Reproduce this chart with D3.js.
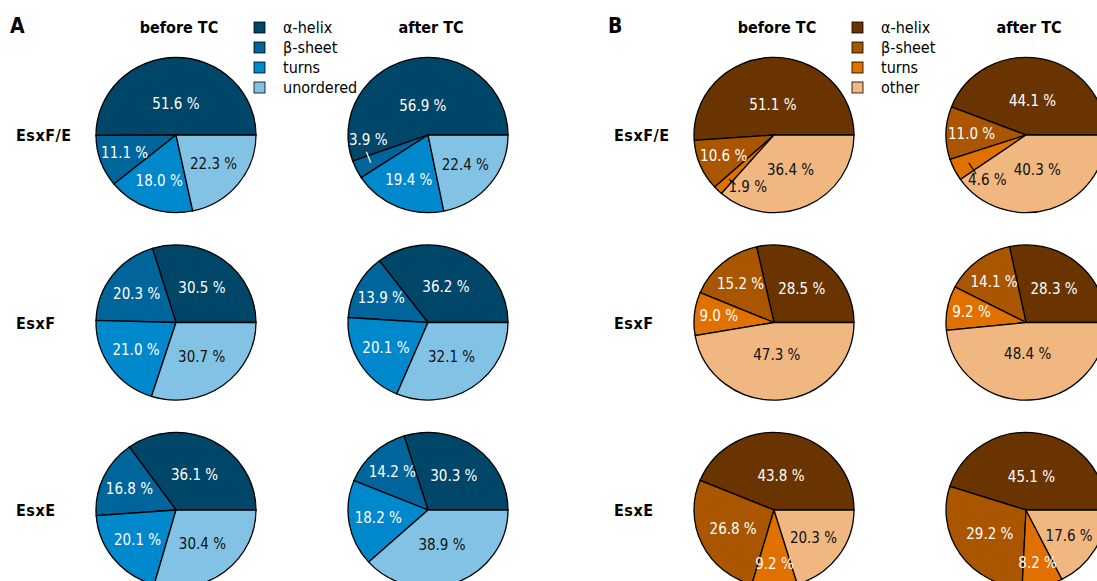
<!DOCTYPE html>
<html>
<head>
<meta charset="utf-8">
<script src="https://cdn.jsdelivr.net/npm/d3@7"></script>
<style>
  body { margin: 0; background: #fff; }
  text { font-family: "DejaVu Sans Condensed", "DejaVu Sans", sans-serif; }
</style>
</head>
<body>
<svg id="graph" width="1097" height="581"></svg>
<script>
// categories
const rows = ["EsxF/E", "EsxF", "EsxE"];
const conditions = ["before TC", "after TC"];
const seriesA = ["α-helix", "β-sheet", "turns", "unordered"];
const seriesB = ["α-helix", "β-sheet", "turns", "other"];

// panel A : values per row, in series order
const aBefore = [[51.6, 11.1, 18.0, 22.3], [30.5, 20.3, 21.0, 30.7], [36.1, 16.8, 20.1, 30.4]];
const aAfter  = [[56.9, 3.9, 19.4, 22.4], [36.2, 13.9, 20.1, 32.1], [30.3, 14.2, 18.2, 38.9]];
// panel B
const bBefore = [[51.1, 10.6, 1.9, 36.4], [28.5, 15.2, 9.0, 47.3], [43.8, 26.8, 9.2, 20.3]];
const bAfter  = [[44.1, 11.0, 4.6, 40.3], [28.3, 14.1, 9.2, 48.4], [45.1, 29.2, 8.2, 17.6]];

const colorsA = ["#004669", "#00659a", "#0088cc", "#82c3e5"];
const colorsB = ["#6a3400", "#aa5500", "#e07000", "#f0b880"];

const R = 80, ky = 0.97;   // pies are a little wider than tall
const svg = d3.select('#graph');

const panels = [
  { letter: "A", x0: 0, series: seriesA, colors: colorsA, data: [aBefore, aAfter] },
  { letter: "B", x0: 598, series: seriesB, colors: colorsB, data: [bBefore, bAfter] }
];

const xCol = d3.scalePoint().domain(conditions).range([176, 428]);
const yRow = d3.scalePoint().domain(rows).range([135, 510]);

const pie = d3.pie().sort(null)
  .startAngle(Math.PI / 2)
  .endAngle(Math.PI / 2 - 2 * Math.PI);   // start at 3 o'clock, counter-clockwise
const arc = d3.arc().innerRadius(0).outerRadius(R);

// point on the (squashed) pie for a d3 angle
const pt = (a, r) => [Math.sin(a) * r, -Math.cos(a) * r * ky];
const deg = Math.PI / 180;

panels.forEach(p => {
  const g = svg.append('g').attr('transform', `translate(${p.x0}, 0)`);

  g.append('text')
    .attr('x', 10).attr('y', 33)
    .attr('font-size', '21px').attr('font-weight', 'bold')
    .text(p.letter);

  conditions.forEach(c => {
    g.append('text')
      .attr('x', xCol(c) + 3).attr('y', 33)
      .attr('text-anchor', 'middle')
      .attr('font-size', '16px').attr('font-weight', 'bold')
      .text(c);
  });

  rows.forEach(r => {
    g.append('text')
      .attr('x', 16).attr('y', yRow(r) + 6)
      .attr('font-size', '16px').attr('font-weight', 'bold')
      .attr('letter-spacing', '0.5px')
      .text(r);
  });

  // legend
  const leg = g.append('g').attr('transform', 'translate(254, 22)');
  p.series.forEach((s, i) => {
    leg.append('rect')
      .attr('x', 0).attr('y', i * 20)
      .attr('width', 11).attr('height', 11)
      .attr('fill', p.colors[i])
      .attr('stroke', '#000').attr('stroke-width', 0.8);
    leg.append('text')
      .attr('x', 29).attr('y', i * 20 + 11)
      .attr('font-size', '16px')
      .text(s);
  });

  conditions.forEach((c, ci) => {
    rows.forEach((r, ri) => {
      const vals = p.data[ci][ri];
      const total = d3.sum(vals);
      const arcs = pie(vals);
      const cg = g.append('g').attr('transform', `translate(${xCol(c)}, ${yRow(r)})`);

      cg.append('g').attr('transform', `scale(1, ${ky})`)
        .selectAll('path')
        .data(arcs)
        .enter()
        .append('path')
        .attr('d', arc)
        .attr('fill', (d, i) => p.colors[i])
        .attr('stroke', '#000')
        .attr('stroke-width', 1.3)
        .attr('vector-effect', 'non-scaling-stroke');

      arcs.forEach((d, i) => {
        const frac = d.value / total;
        const mid = (d.startAngle + d.endAngle) / 2;
        const txtColor = i === 3 ? '#111' : '#fff';
        let pos;
        if (d.value < 5) {
          // tiny slice: label beside it, over the bigger neighbour, with a short leader
          const prev = arcs[i - 1], next = arcs[i + 1];
          const towardPrev = prev && (!next || prev.value > next.value);
          const edge = towardPrev ? d.startAngle : d.endAngle;
          const dir = towardPrev ? 1 : -1;
          const la = edge + dir * 15 * deg;
          pos = pt(la, R * 0.75);
          const l0 = pt(mid, R * 0.8), l1 = pt(edge + dir * 4 * deg, R * 0.8);
          const host = towardPrev ? i - 1 : i + 1;
          const c2 = host === 3 ? '#111' : '#fff';
          cg.append('line')
            .attr('x1', l0[0]).attr('y1', l0[1])
            .attr('x2', l1[0]).attr('y2', l1[1])
            .attr('stroke', c2)
            .attr('stroke-width', 1.2);
          cg.append('text')
            .attr('x', pos[0]).attr('y', pos[1])
            .attr('text-anchor', 'middle')
            .attr('dominant-baseline', 'central')
            .attr('font-size', '15px')
            .attr('fill', c2)
            .text(d.value.toFixed(1) + ' %');
          return;
        }
        const lr = R * Math.max(0.38, 0.76 - 0.72 * frac);
        pos = pt(mid, lr);
        cg.append('text')
          .attr('x', pos[0]).attr('y', pos[1])
          .attr('text-anchor', 'middle')
          .attr('dominant-baseline', 'central')
          .attr('font-size', '15px')
          .attr('fill', txtColor)
          .text(d.value.toFixed(1) + ' %');
      });
    });
  });
});
</script>
</body>
</html>
